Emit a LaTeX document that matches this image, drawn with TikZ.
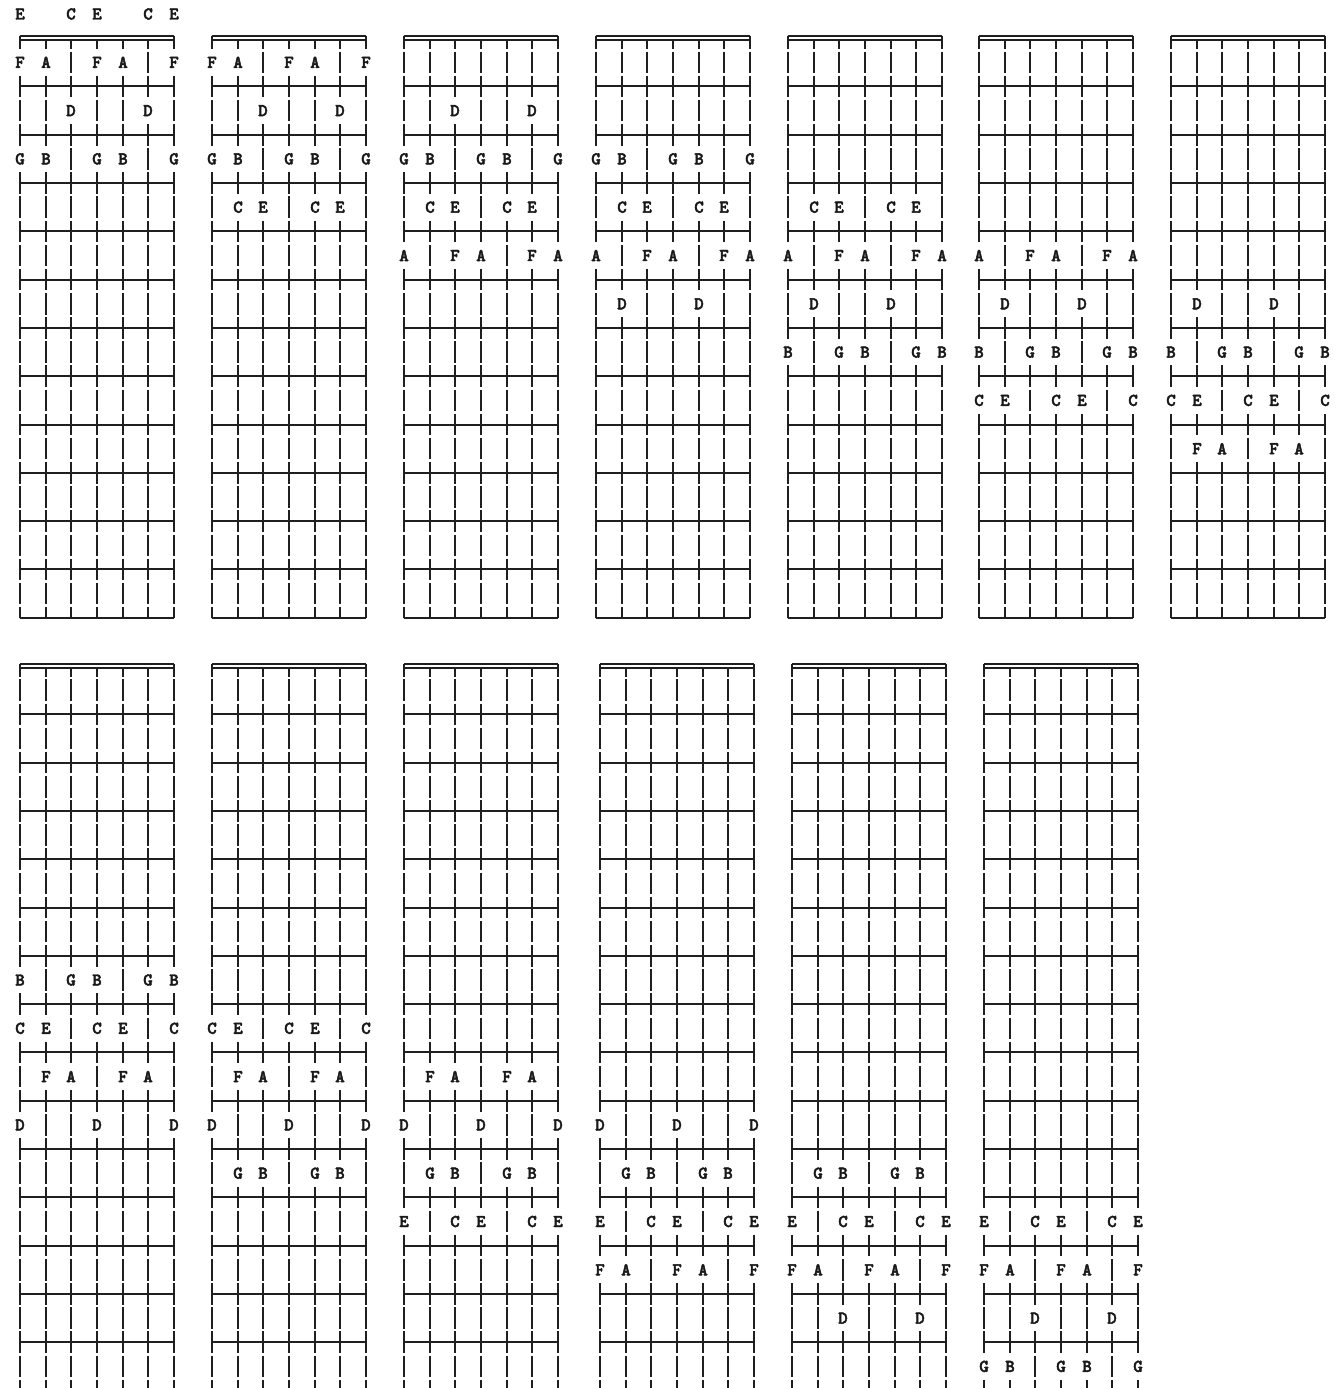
\documentclass[tikz,border=0pt]{standalone}
\usepackage{fontspec}
\newfontfamily\notefont{lmmonolt10-bold.otf}[FakeBold=2.5]
\newcommand\notename[1]{\ifcase#1\relax C\or\or D\or\or E\or F\or\or G\or\or A\or\or B\fi}
\begin{document}
\begin{tikzpicture}[x=1pt,y=-1pt,
  fretline/.style={line width=1.9pt,draw=black!88},
  nutline/.style={line width=1.5pt,draw=black!88},
  stringline/.style={line width=2pt,draw=black!88},
  note/.style={font=\notefont\fontsize{18}{18}\selectfont,inner sep=0pt,text=black!90}]
\useasboundingbox (0,0) rectangle (1340,1388);
\begin{scope}
\clip (0,0) rectangle (1340,1388);
\def\rh{24.15}
\def\spc{25.667}
\def\gp{2.6}
\foreach \dg/\xl/\Rb/\nf in {0/20/0/12, 1/212/0/12, 2/404/0/12, 3/596/0/12, 4/788/0/12, 5/979/0/12, 6/1171/0/12, 7/20/26/16, 8/212/26/16, 9/404/26/16, 10/600/26/16, 11/792/26/16, 12/984/26/16}{
  \pgfmathsetmacro\xr{round(\xl+6*\spc)}
  \pgfmathsetmacro\yn{round(14+\rh*(\Rb+1))}
  \draw[nutline] (\xl,\yn-2) -- (\xr,\yn-2);
  \draw[nutline] (\xl,\yn+2) -- (\xr,\yn+2);
  \foreach \kf in {1,...,\nf}{
    \pgfmathsetmacro\yf{round(14+\rh*(\Rb+1+2*\kf))}
    \draw[fretline] (\xl,\yf) -- (\xr,\yf);
  }
  \pgfmathtruncatemacro\last{2*\nf+1}
  \foreach \st in {0,...,6}{
    \pgfmathsetmacro\xx{round(\xl+\st*\spc)}
    \pgfmathtruncatemacro\tv{{4,8,0,4,8,0,4}[\st]}
    \ifnum\dg=0\relax
      \pgfmathtruncatemacro\isnat{{1,0,1,0,1,1,0,1,0,1,0,1}[\tv]}
      \ifnum\isnat=1\relax
        \node[note] (open-\st) at (\xx,14) {\notename{\tv}};
      \fi
    \fi
    \foreach \rr in {1,...,\last}{
      \pgfmathsetmacro\yc{14+\rh*(\Rb+\rr)}
      \pgfmathsetmacro\ya{\yc-\rh/2+\gp/2}
      \pgfmathsetmacro\yb{\yc+\rh/2-\gp/2}
      \def\drawit{1}
      \ifnum\rr=1\relax
        \pgfmathsetmacro\yr{round(\yc)}
        \ifnum\st=0\relax
          \pgfmathsetmacro\ya{\yr-2}
        \else
          \ifnum\st=6\relax
            \pgfmathsetmacro\ya{\yr-2}
          \else
            \pgfmathsetmacro\ya{\yr+2}
          \fi
        \fi
      \fi
      \ifnum\rr=\last\relax
        \ifnum\Rb=0\relax
          \pgfmathsetmacro\yb{round(\yc)}
        \fi
      \fi
      \ifodd\rr\relax\else
        \pgfmathtruncatemacro\kf{\rr/2}
        \pgfmathtruncatemacro\inwin{and(\kf>=\dg,\kf<=\dg+3)}
        \ifnum\inwin=1\relax
          \pgfmathtruncatemacro\pc{mod(\tv+\kf,12)}
          \pgfmathtruncatemacro\isnat{{1,0,1,0,1,1,0,1,0,1,0,1}[\pc]}
          \ifnum\isnat=1\relax
            \def\drawit{0}
            \node[note] (n\dg-\st-\kf) at (\xx,\yc) {\notename{\pc}};
          \fi
        \fi
      \fi
      \ifnum\drawit=1\relax
        \draw[stringline] (\xx,\ya) -- (\xx,\yb);
      \fi
    }
  }
}
\end{scope}
\end{tikzpicture}
\end{document}
